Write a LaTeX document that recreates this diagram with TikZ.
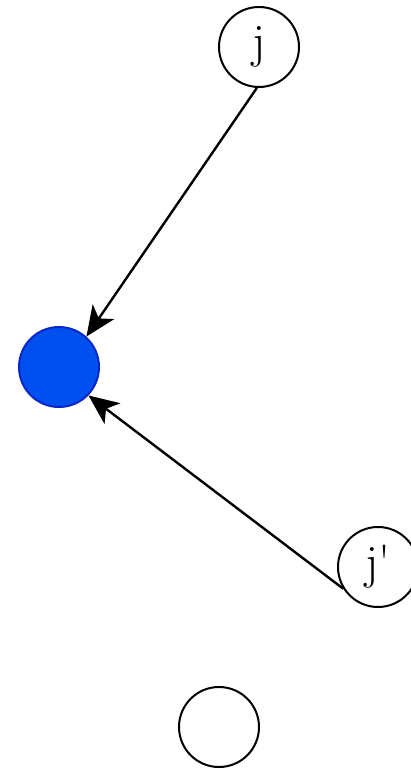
\documentclass[tikz,border=0pt]{standalone}
\usepackage{tikz}
\usetikzlibrary{arrows.meta}
\definecolor{nodeblue}{RGB}{0,80,240}
\definecolor{rimblue}{RGB}{10,40,200}

\begin{document}
\begin{tikzpicture}[>={Stealth[length=15pt,width=13pt,inset=4pt]}, x=0.5pt, y=-0.5pt,
  vert/.style={draw, circle, line width=1pt, minimum size=40pt, inner sep=0pt,
    font=\fontsize{24}{28}\selectfont},
  hit/.style={vert, draw=rimblue, fill=nodeblue},
  link/.style={->, line width=1.2pt}]
\useasboundingbox (0,0) rectangle (411,769);
\node[vert] (j) at (259,47) {j};
\node[hit] (c) at (59,367) {};
\node[vert] (jp) at (378,567) {j\textquotesingle};
\node[vert] (e) at (219,727) {};
\draw[link] (j.-93) -- (c.48);
\draw[link] (jp.212) -- (c.-44);
\end{tikzpicture}
\end{document}
